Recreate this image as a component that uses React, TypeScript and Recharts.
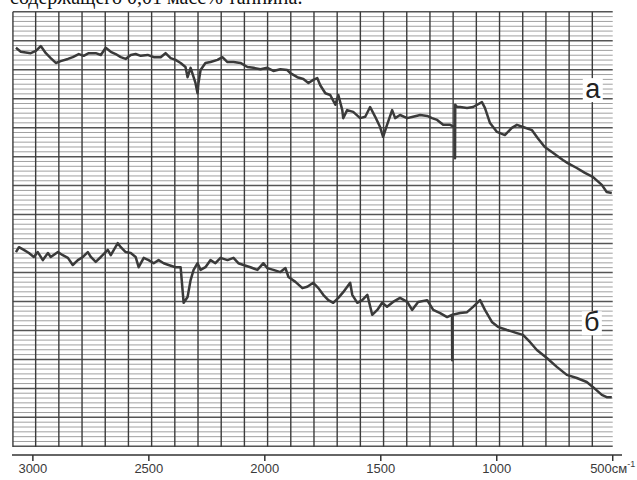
import { LineChart, Line, XAxis, YAxis, ReferenceLine, ReferenceDot } from 'recharts';

// IR spectra, wavenumber (cm-1) vs. transmittance (%, chart-paper scale)
const WAVENUMBERS_A = [
  3073, 3052, 3009, 2987, 2966, 2944, 2923, 2901, 2880, 2849,
  2828, 2802, 2781, 2759, 2729, 2707, 2686, 2664, 2643, 2621,
  2600, 2578, 2557, 2535, 2505, 2479, 2449, 2428, 2406, 2385,
  2363, 2342, 2333, 2320, 2307, 2299, 2290, 2286, 2277, 2256,
  2234, 2204, 2183, 2161, 2135, 2105, 2075, 2049, 2019, 1989,
  1963, 1933, 1903, 1890, 1860, 1834, 1812, 1791, 1774, 1761,
  1739, 1718, 1696, 1683, 1666, 1662, 1645, 1619, 1589, 1567,
  1546, 1524, 1503, 1490, 1473, 1451, 1438, 1417, 1386, 1361,
  1330, 1300, 1279, 1257, 1231, 1201, 1181, 1180, 1179, 1171,
  1158, 1128, 1102, 1064, 1051, 1029, 999, 965, 935, 913,
  887, 848, 823, 793, 758, 715, 694, 655, 620, 586,
  547, 526, 504,
];
const TRANSMITTANCE_A = [
  91.5, 90.6, 90.3, 90.8, 91.9, 90.3, 89.2, 88.1, 88.5, 89.0,
  89.4, 90.1, 89.7, 90.3, 90.3, 89.9, 91.5, 90.6, 90.1, 89.4,
  89.0, 89.9, 90.1, 89.7, 89.9, 89.4, 89.4, 90.3, 89.2, 88.8,
  88.1, 87.2, 84.9, 87.0, 84.9, 83.6, 81.3, 83.6, 86.5, 88.1,
  88.3, 88.8, 89.4, 88.3, 88.3, 88.1, 87.2, 87.0, 86.7, 87.0,
  86.3, 86.7, 86.5, 85.8, 84.9, 84.5, 83.6, 84.3, 84.7, 83.1,
  81.3, 80.9, 78.7, 80.9, 77.5, 75.7, 77.5, 77.1, 75.7, 76.0,
  78.2, 76.0, 73.7, 71.5, 74.2, 77.5, 75.7, 76.4, 75.7, 76.0,
  76.4, 76.2, 75.7, 75.3, 74.2, 74.2, 73.7, 66.7, 78.7, 78.2,
  78.2, 78.0, 78.2, 79.3, 78.0, 74.6, 72.6, 71.9, 73.5, 74.2,
  73.7, 73.0, 71.2, 69.2, 67.9, 66.3, 65.6, 64.5, 63.4, 62.5,
  60.7, 59.1, 58.9,
];

const WAVENUMBERS_B = [
  3073, 3060, 3039, 3017, 2996, 2979, 2957, 2935, 2923, 2892,
  2871, 2849, 2828, 2806, 2785, 2763, 2750, 2729, 2707, 2677,
  2664, 2634, 2621, 2600, 2578, 2557, 2544, 2522, 2501, 2479,
  2458, 2436, 2415, 2385, 2363, 2350, 2333, 2320, 2307, 2290,
  2277, 2256, 2234, 2213, 2191, 2161, 2135, 2114, 2092, 2062,
  2032, 2006, 1989, 1963, 1933, 1911, 1898, 1868, 1838, 1817,
  1791, 1769, 1748, 1726, 1705, 1683, 1662, 1632, 1623, 1601,
  1580, 1558, 1537, 1515, 1494, 1473, 1447, 1417, 1386, 1365,
  1339, 1300, 1274, 1244, 1214, 1193, 1192, 1191, 1158, 1128,
  1102, 1072, 1051, 1021, 995, 956, 913, 887, 857, 827,
  784, 741, 698, 655, 612, 586, 547, 526, 504,
];
const TRANSMITTANCE_B = [
  45.6, 46.7, 46.1, 45.4, 44.5, 45.6, 43.8, 45.4, 44.5, 45.6,
  44.9, 44.3, 42.7, 43.8, 44.5, 45.6, 44.5, 43.4, 44.5, 46.1,
  44.9, 47.6, 46.7, 45.6, 45.4, 44.5, 42.2, 44.3, 43.8, 43.1,
  43.8, 43.1, 42.7, 42.2, 42.2, 34.2, 35.5, 39.3, 41.6, 43.1,
  41.6, 42.2, 43.8, 43.1, 44.3, 43.8, 44.3, 43.1, 42.7, 42.2,
  41.6, 43.1, 42.0, 41.6, 41.1, 42.0, 40.0, 38.9, 37.5, 37.8,
  38.7, 37.5, 36.0, 34.8, 34.2, 35.3, 36.6, 38.7, 36.0, 34.2,
  34.8, 36.0, 31.5, 32.6, 34.2, 33.3, 34.4, 35.3, 34.4, 32.6,
  34.4, 34.8, 32.6, 31.9, 31.0, 31.5, 21.3, 31.5, 31.9, 32.1,
  33.3, 34.8, 32.6, 29.9, 28.8, 28.1, 27.4, 27.0, 25.4, 23.6,
  21.8, 19.8, 18.0, 17.3, 16.4, 15.3, 13.5, 13.0, 13.0,
];

const X_TICKS = [3000, 2500, 2000, 1500, 1000, 500];

const seriesA = WAVENUMBERS_A.map((w, i) => ({ w, t: TRANSMITTANCE_A[i] }));
const seriesB = WAVENUMBERS_B.map((w, i) => ({ w, t: TRANSMITTANCE_B[i] }));

// recorder paper: a line every 100 cm-1, dense horizontal rulings
const GRID_LEFT = 3086;
const GRID_RIGHT = 500;
const GRID_TOP = 99.6;
const GRID_BOTTOM = 1.8;
const paperV = [GRID_LEFT, ...Array.from({ length: 25 }, (_, k) => 2988 - k * 100)];
const paperH = Array.from({ length: 91 }, (_, k) => GRID_TOP - k * 1.085).filter((v) => v >= GRID_BOTTOM);

const INK = '#3a3a3a';
const FONT = '"Liberation Sans", Arial, sans-serif';

const WaveTick = (props: any) => {
  const { x, y, payload } = props;
  const v = payload.value;
  return (
    <text x={x} y={y + 10} textAnchor="middle" fontSize={13} fill="#3a3a3a" fontFamily={FONT}>
      {v}
      {v === 500 ? (
        <>
          <tspan>см</tspan>
          <tspan dy={-6} fontSize={9}>-1</tspan>
        </>
      ) : null}
    </text>
  );
};

const tag = (letter: string) => (p: any) => (
  <g>
    <rect x={p.cx - 10} y={p.cy - 12} width={20} height={24} fill="#fff" />
    <text x={p.cx} y={p.cy + 8} textAnchor="middle" fontSize={27} fill="#222" fontFamily={FONT}>
      {letter}
    </text>
  </g>
);

export default function App() {
  return (
    <div style={{ position: 'absolute', left: 0, top: 0, width: 637, height: 480, background: '#fff', overflow: 'hidden' }}>
      <div
        style={{
          position: 'absolute', left: 10, top: -13, fontFamily: '"Liberation Serif", "Times New Roman", serif',
          fontSize: 20, lineHeight: '20px', color: '#111', whiteSpace: 'nowrap',
        }}
      >
        содержащего 0,01 масс% таннина.
      </div>
      <LineChart width={637} height={480} margin={{ top: 10, right: 15, left: 12, bottom: 0 }}>
        <XAxis
          type="number"
          dataKey="w"
          domain={[460, 3090]}
          reversed
          ticks={X_TICKS}
          tick={<WaveTick />}
          tickSize={6}
          height={25}
          axisLine={{ stroke: '#333', strokeWidth: 1.5 }}
          tickLine={{ stroke: '#333', strokeWidth: 1.5 }}
          allowDuplicatedCategory={false}
        />
        <YAxis type="number" domain={[0, 100]} hide />

        {paperH.map((v, k) => (
          <ReferenceLine
            key={`h${k}`}
            segment={[{ x: GRID_LEFT, y: v }, { x: GRID_RIGHT, y: v }]}
            stroke={k % 6 === 0 ? '#555' : '#a0a0a0'}
            strokeWidth={k % 6 === 0 ? 1.5 : 1}
          />
        ))}
        {paperV.map((w) => (
          <ReferenceLine
            key={`v${w}`}
            segment={[{ x: w, y: GRID_BOTTOM }, { x: w, y: GRID_TOP }]}
            stroke="#3c3c3c"
            strokeWidth={1.4}
          />
        ))}

        <Line data={seriesA} dataKey="t" stroke={INK} strokeWidth={2.5} dot={false} isAnimationActive={false} strokeLinejoin="round" />
        <Line data={seriesB} dataKey="t" stroke={INK} strokeWidth={2.5} dot={false} isAnimationActive={false} strokeLinejoin="round" />

        <ReferenceDot x={586} y={82} r={0} shape={tag('а')} />
        <ReferenceDot x={590} y={29.6} r={0} shape={tag('б')} />
      </LineChart>
    </div>
  );
}
